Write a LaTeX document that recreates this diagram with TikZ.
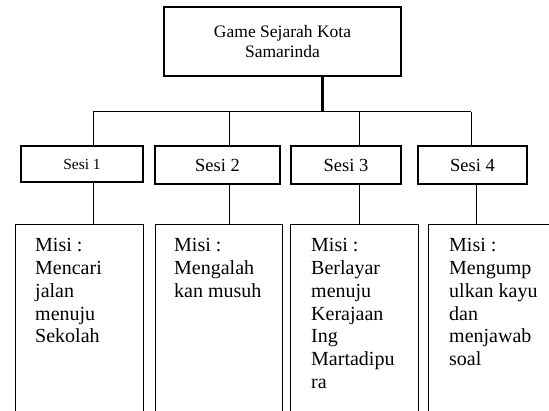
\documentclass[tikz,border=0pt]{standalone}
\usepackage{fontspec}
\setmainfont{Liberation Serif}
\begin{document}
\begin{tikzpicture}[x=1pt,y=-1pt,
  boxline/.style={draw=black,line width=1.2pt},
  topbox/.style={boxline,minimum width=237pt,minimum height=69pt,inner sep=0pt,align=center,font=\fontsize{17.5}{19.5}\selectfont},
  sesibox/.style={boxline,minimum height=38pt,inner sep=0pt,font=\fontsize{18.5}{21}\selectfont},
  misibox/.style={boxline,minimum height=220pt,inner sep=0pt,anchor=north west},
  misitext/.style={anchor=north west,inner sep=0pt,align=left,font=\fontsize{20}{22.7}\selectfont},
  conn/.style={draw=black,line width=1pt},
  stem/.style={draw=black,line width=3pt}]
\clip (0,0) rectangle (549,411);
\fill[white] (0,0) rectangle (549,411);

\node[topbox] (top) at (282.5,41.5) {Game Sejarah Kota\\Samarinda};

\node[sesibox,minimum width=122pt,minimum height=36pt,font=\fontsize{15.4}{18}\selectfont] (s1) at (82,164) {Sesi 1};
\node[sesibox,minimum width=125pt] (s2) at (217.5,165) {Sesi 2};
\node[sesibox,minimum width=110pt] (s3) at (346,165) {Sesi 3};
\node[sesibox,minimum width=109pt] (s4) at (472.5,165) {Sesi 4};

\node[misibox,minimum width=128pt] (m1) at (15,224) {};
\node[misibox,minimum width=127pt] (m2) at (155,224) {};
\node[misibox,minimum width=128pt] (m3) at (290,224) {};
\node[misibox,minimum width=200pt] (m4) at (428,224) {};

\node[misitext] (t1) at ([shift={(20,14.5)}]m1.north west) {Misi :\\Mencari\\jalan\\menuju\\Sekolah};
\node[misitext] (t2) at ([shift={(19,14.5)}]m2.north west) {Misi :\\Mengalah\\kan musuh};
\node[misitext] (t3) at ([shift={(21,14.5)}]m3.north west) {Misi :\\Berlayar\\menuju\\Kerajaan\\Ing\\Martadipu\\ra};
\node[misitext] (t4) at ([shift={(21,14.5)}]m4.north west) {Misi :\\Mengump\\ulkan kayu\\dan\\menjawab\\soal};

\coordinate (b1) at (93,112);
\coordinate (b2) at (229,112);
\coordinate (b3) at (359,112);
\coordinate (b4) at (471,112);
\coordinate (bt) at (322,112);
\coordinate (d1) at (93,200);
\coordinate (d2) at (229,200);
\coordinate (d3) at (359,200);
\coordinate (d4) at (476,200);

\draw[stem] (bt |- top.south) -- (bt);
\draw[conn] (b1) -- (b4);
\draw[conn] (b1) -- (b1 |- s1.north);
\draw[conn] (b2) -- (b2 |- s2.north);
\draw[conn] (b3) -- (b3 |- s3.north);
\draw[conn] (b4) -- (b4 |- s4.north);
\draw[conn] (d1 |- s1.south) -- (d1 |- m1.north);
\draw[conn] (d2 |- s2.south) -- (d2 |- m2.north);
\draw[conn] (d3 |- s3.south) -- (d3 |- m3.north);
\draw[conn] (d4 |- s4.south) -- (d4 |- m4.north);
\end{tikzpicture}
\end{document}
